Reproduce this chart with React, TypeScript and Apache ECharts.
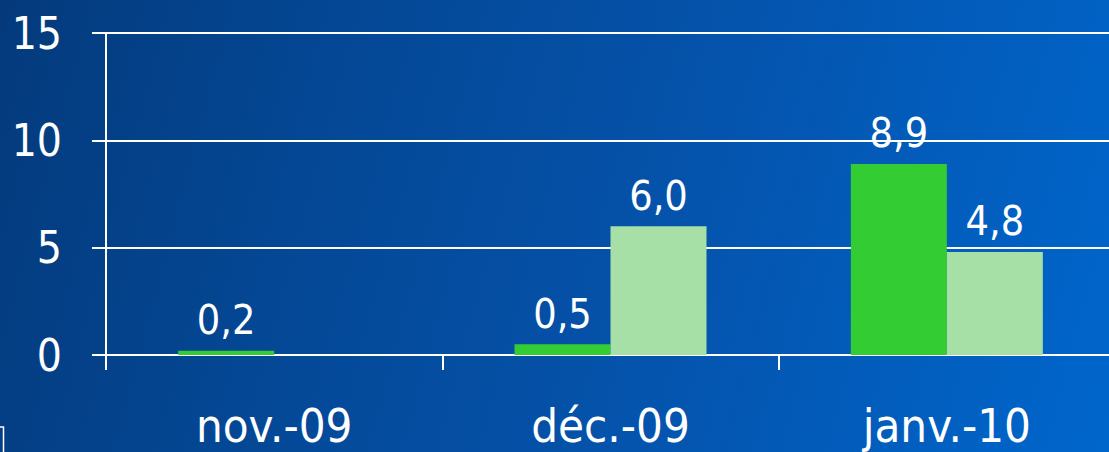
import React, { useEffect, useRef } from "react";
import * as echarts from "echarts";

const categories = ["nov.-09", "déc.-09", "janv.-10"];
const seriesA = [0.2, 0.5, 8.9];
const seriesB = [null, 6.0, 4.8];
const yTicks = [0, 5, 10, 15];

const FONT = "'DejaVu Sans Condensed', 'DejaVu Sans', sans-serif";

export default function App() {
  const ref = useRef<HTMLDivElement>(null);
  useEffect(() => {
    if (!ref.current) return;
    const chart = echarts.init(ref.current, null, { renderer: "svg" });
    const fmt = (p: any) => (p.value == null ? "" : Number(p.value).toFixed(1).replace(".", ","));
    const labelStyle = {
      show: true,
      position: "top",
      distance: 10,
      color: "#ffffff",
      fontFamily: FONT,
      fontSize: 41,
      formatter: fmt,
    };
    chart.setOption({
      animation: false,
      backgroundColor: "transparent",
      grid: { left: 106, top: 33, width: 1009, height: 322, containLabel: false },
      xAxis: {
        type: "category",
        data: categories,
        axisLine: { show: true, lineStyle: { color: "#ffffff", width: 2 } },
        axisTick: { show: true, length: 15, lineStyle: { color: "#ffffff", width: 2 } },
        axisLabel: { color: "#ffffff", fontFamily: FONT, fontSize: 47, margin: 47 },
        splitLine: { show: false },
      },
      yAxis: {
        type: "value",
        min: yTicks[0],
        max: yTicks[yTicks.length - 1],
        interval: 5,
        axisLine: { show: true, lineStyle: { color: "#ffffff", width: 2 } },
        axisTick: { show: true, length: 14, lineStyle: { color: "#ffffff", width: 2 } },
        axisLabel: { color: "#ffffff", fontFamily: FONT, fontSize: 44, margin: 44 },
        splitLine: { show: true, lineStyle: { color: "#ffffff", width: 2 } },
      },
      graphic: [
        {
          type: "rect",
          shape: { x: -20, y: 427, width: 23.5, height: 60 },
          style: { fill: "none", stroke: "#ffffff", lineWidth: 1.5 },
          silent: true,
        },
      ],
      series: [
        {
          type: "bar",
          data: seriesA,
          barWidth: 96,
          barGap: "0%",
          itemStyle: { color: "#33cc33" },
          label: labelStyle,
        },
        {
          type: "bar",
          data: seriesB,
          barWidth: 96,
          barGap: "0%",
          itemStyle: { color: "#a6e0a6" },
          label: labelStyle,
        },
      ],
    });
    return () => chart.dispose();
  }, []);
  return (
    <div
      style={{
        position: "fixed",
        left: 0,
        top: 0,
        width: 1109,
        height: 452,
        background: "linear-gradient(105deg, #043a7c 0%, #044896 30%, #0551a8 55%, #0066cc 100%)",
        overflow: "hidden",
      }}
    >
      <div ref={ref} style={{ position: "absolute", left: 0, top: 0, width: 1130, height: 452 }} />
    </div>
  );
}
